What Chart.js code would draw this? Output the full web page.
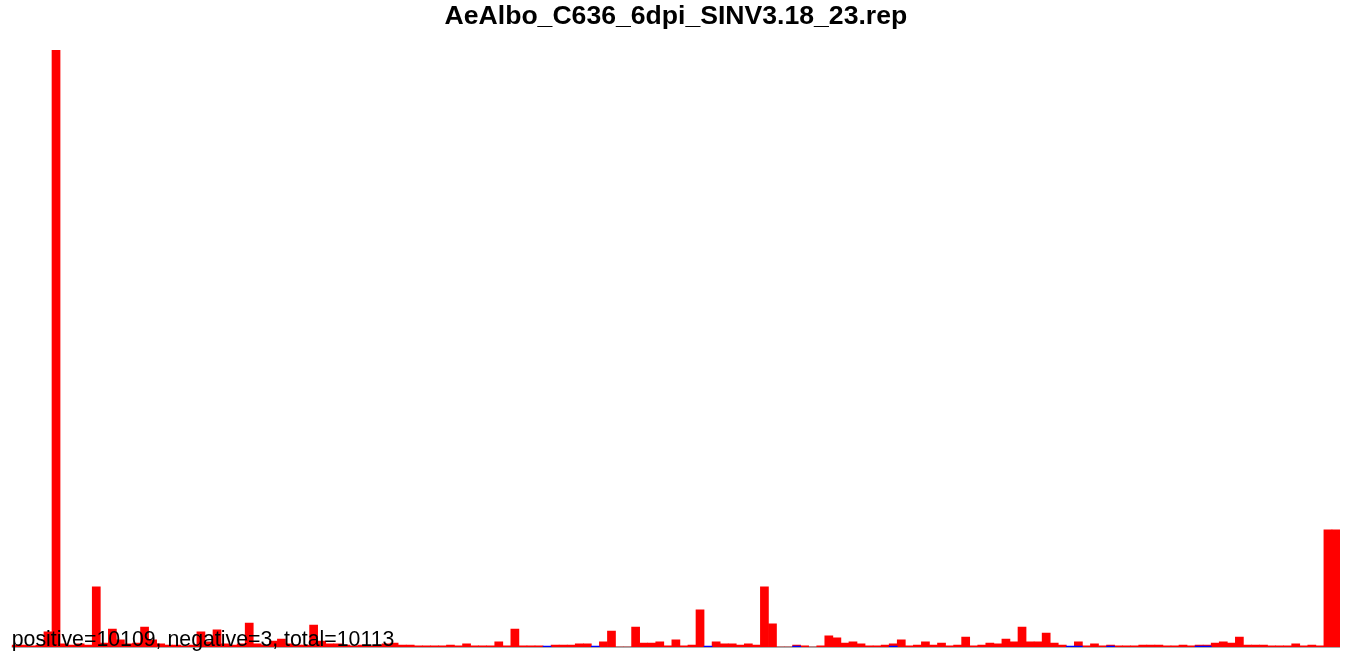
<!DOCTYPE html>
<html>
<head>
<meta charset="utf-8">
<title>AeAlbo_C636_6dpi_SINV3.18_23.rep</title>
<script src="https://cdn.jsdelivr.net/npm/chart.js@4.4.1/dist/chart.umd.min.js"></script>
<style>
  html, body { margin: 0; padding: 0; background: #ffffff; }
  #wrap { position: relative; width: 1357px; height: 658px; }
</style>
</head>
<body>
<div id="wrap"><canvas id="chartCanvas"></canvas></div>
<script>
// Read counts per bin (165 bins), positive strand in red, negative strand in blue
const chartTitle = 'AeAlbo_C636_6dpi_SINV3.18_23.rep';
const positiveTotal = 10109;
const negativeTotal = 3;
const readTotal = 10113;

const positiveCounts = [
  13, 13, 7, 13, 98, 3874, 20, 13, 20, 13,
  390, 26, 117, 46, 20, 26, 130, 46, 20, 13,
  13, 7, 13, 98, 33, 111, 20, 13, 20, 156,
  20, 13, 39, 52, 20, 13, 13, 143, 39, 20,
  20, 13, 7, 13, 7, 13, 20, 26, 13, 13,
  7, 7, 7, 7, 13, 7, 20, 7, 7, 7,
  33, 7, 117, 7, 7, 7, null, 13, 13, 13,
  20, 20, null, 33, 104, 0, 0, 130, 26, 26,
  33, 7, 46, 7, 13, 241, null, 33, 20, 20,
  13, 20, 13, 390, 150, 0, 0, 13, 7, 0,
  7, 72, 59, 26, 33, 20, 7, 7, 13, 20,
  46, 7, 13, 33, 13, 26, 7, 13, 65, 7,
  13, 26, 20, 52, 33, 130, 33, 33, 91, 26,
  13, null, 33, 7, 20, 7, 13, 7, 7, 7,
  13, 13, 13, 7, 7, 13, 7, 13, 13, 26,
  33, 26, 65, 13, 13, 13, 7, 7, 7, 20,
  7, 13, 7, 761, 761
];

const negativeCounts = [
  null, null, null, null, null, null, null, null, null, null,
  null, null, null, null, null, null, null, null, null, null,
  null, null, null, null, null, null, null, null, null, null,
  null, null, null, null, null, null, null, null, null, null,
  null, null, null, null, null, null, null, null, null, null,
  null, null, null, null, null, null, null, null, null, null,
  null, null, null, null, null, null, 1, null, null, null,
  null, null, 1, null, null, null, null, null, null, null,
  null, null, null, null, null, null, 1, null, null, null,
  null, null, null, null, null, null, null, 1, null, null,
  null, null, null, null, null, null, null, null, null, 1,
  null, null, null, null, null, null, null, null, null, null,
  null, null, null, null, null, null, null, null, null, null,
  null, 1, 1, null, null, null, 1, null, null, null,
  null, null, null, null, null, null, null, 1, 1, null,
  null, null, null, null, null, null, null, null, null, null,
  null, null, null, null, null
];

const binLabels = positiveCounts.map((v, i) => String(i + 1));
const yMax = 3874;

// baseline rule under the bars and the summary line on top of them
const annotate = {
  id: 'annotate',
  beforeDatasetsDraw(chart) {
    const { ctx, chartArea } = chart;
    ctx.save();
    ctx.fillStyle = '#aaaaaa';
    ctx.fillRect(chartArea.left, chartArea.bottom - 1, chartArea.right - chartArea.left, 2);
    ctx.restore();
  },
  afterDatasetsDraw(chart) {
    const { ctx, chartArea } = chart;
    ctx.save();
    ctx.font = '21.3px "Liberation Sans", Arial, sans-serif';
    ctx.fillStyle = '#000000';
    ctx.textAlign = 'left';
    ctx.textBaseline = 'alphabetic';
    const summary = `positive=${positiveTotal}, negative=${negativeTotal}, total=${readTotal}`;
    ctx.fillText(summary, chartArea.left, chartArea.bottom - 1);
    ctx.restore();
  }
};

const ctx = document.getElementById('chartCanvas').getContext('2d');
new Chart(ctx, {
  type: 'bar',
  data: {
    labels: binLabels,
    datasets: [
      {
        label: 'negative',
        data: negativeCounts,
        backgroundColor: '#0000ff',
        grouped: false,
        minBarLength: 1,
        order: 0
      },
      {
        label: 'positive',
        data: positiveCounts,
        backgroundColor: '#ff0000',
        grouped: false,
        order: 1
      }
    ]
  },
  options: {
    animation: false,
    responsive: true,
    maintainAspectRatio: false,
    layout: {
      padding: { left: 11.75, right: 17, top: 0, bottom: 11 }
    },
    datasets: {
      bar: { barPercentage: 1, categoryPercentage: 1, borderWidth: 0 }
    },
    scales: {
      x: { display: false },
      y: { display: false, min: 0, max: yMax }
    },
    plugins: {
      legend: { display: false },
      tooltip: { enabled: false },
      title: {
        display: true,
        text: chartTitle,
        color: '#000000',
        font: { family: '"Liberation Sans", Arial, sans-serif', size: 26.6, weight: 'bold' },
        padding: { top: 1, bottom: 17 }
      }
    }
  },
  plugins: [annotate]
});
</script>
</body>
</html>
